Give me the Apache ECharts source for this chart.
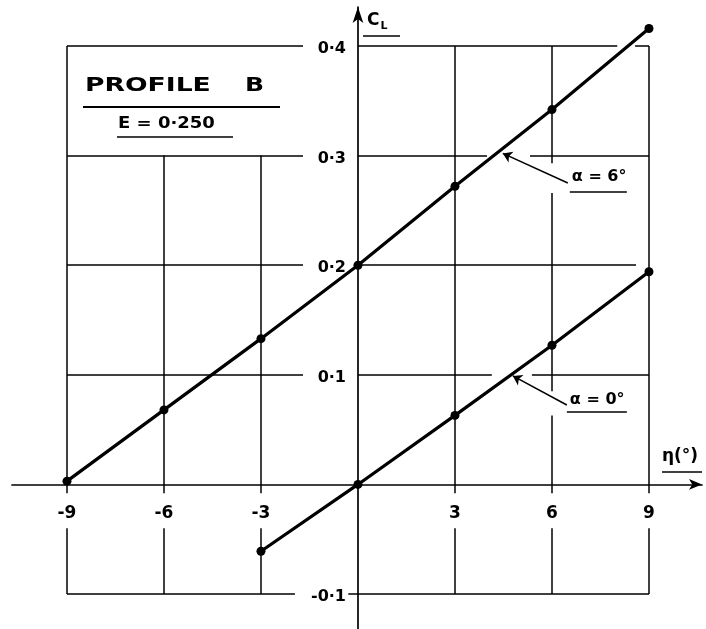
<!DOCTYPE html>
<html>
<head>
<meta charset="utf-8">
<script src="https://cdn.jsdelivr.net/npm/echarts@6/dist/echarts.min.js"></script>
<style>
  html, body { margin: 0; padding: 0; background: #fff; }
  #chart { width: 706px; height: 629px; }
</style>
</head>
<body>
<div id="chart"></div>
<script>
// Elevator angle eta (deg) and lift coefficient C_L for profile B, E = 0.250
const etaAlpha6 = [-9, -6, -3, 0, 3, 6, 9];
const clAlpha6  = [0.003, 0.068, 0.133, 0.200, 0.272, 0.342, 0.416];
const etaAlpha0 = [-3, 0, 3, 6, 9];
const clAlpha0  = [-0.061, 0.000, 0.063, 0.127, 0.194];

const etaTicks = [-9, -6, -3, 3, 6, 9];
const etaTickLabels = ['-9', '-6', '-3', '3', '6', '9'];
const clTicks = [-0.1, 0.1, 0.2, 0.3, 0.4];
const clTickLabels = ['-0·1', '0·1', '0·2', '0·3', '0·4'];

// Hand-ruled grid: each entry is one ruled stroke, broken where labels or curves sit
const gridStrokes = [
  // horizontals
  [[-9, 0.4], [-1.7, 0.4]], [[0, 0.4], [8.02, 0.4]], [[8.57, 0.4], [9, 0.4]],
  [[-9, 0.3], [-1.7, 0.3]], [[0, 0.3], [3.99, 0.3]], [[5.32, 0.3], [9, 0.3]],
  [[-9, 0.2], [-1.7, 0.2]], [[0, 0.2], [8.6, 0.2]],
  [[-9, 0.1], [-1.7, 0.1]], [[0, 0.1], [4.14, 0.1]], [[5.38, 0.1], [9, 0.1]],
  [[-9, -0.1], [-1.95, -0.1]], [[-0.3, -0.1], [9, -0.1]],
  // verticals
  [[-9, 0.4], [-9, -0.008]], [[-9, -0.04], [-9, -0.1]],
  [[-6, 0.3], [-6, -0.008]], [[-6, -0.04], [-6, -0.1]],
  [[-3, 0.3], [-3, -0.008]], [[-3, -0.04], [-3, -0.1]],
  [[3, 0.4], [3, -0.008]], [[3, -0.04], [3, -0.1]],
  [[6, 0.4], [6, 0.293]], [[6, 0.266], [6, 0.085]], [[6, 0.063], [6, -0.008]], [[6, -0.04], [6, -0.1]],
  [[9, 0.4], [9, -0.008]], [[9, -0.04], [9, -0.1]]
];

// Leader arrows: from label to curve
const leaderAlpha6 = [[6.49, 0.275], [4.48, 0.302]];
const leaderAlpha0 = [[6.46, 0.0725], [4.79, 0.099]];

const FONT = '"DejaVu Sans", sans-serif';
const INK = '#000';

const zip = (xs, ys) => xs.map((x, i) => [x, ys[i]]);

const chart = echarts.init(document.getElementById('chart'), null, { renderer: 'canvas' });

const tickLabelStyle = {
  color: INK,
  opacity: 1,
  fontSize: 17,
  fontWeight: 'bold',
  fontFamily: FONT
};

const option = {
  animation: false,
  backgroundColor: '#fff',
  grid: { left: 12, right: 4, top: 7, bottom: 0, containLabel: false, outerBoundsMode: 'none' },
  xAxis: {
    type: 'value',
    min: -10.70,
    max: 10.64,
    splitLine: { show: false },
    axisTick: { show: false },
    axisLabel: { show: false },
    axisLine: {
      onZero: true,
      symbol: ['none', 'arrow'],
      symbolSize: [8, 13],
      lineStyle: { color: INK, width: 1.7 }
    }
  },
  yAxis: {
    type: 'value',
    min: -0.1319,
    max: 0.4356,
    splitLine: { show: false },
    axisTick: { show: false },
    axisLabel: { show: false },
    axisLine: {
      onZero: true,
      symbol: ['none', 'arrow'],
      symbolSize: [8, 16],
      lineStyle: { color: INK, width: 1.7 }
    }
  },
  series: [
    {
      name: 'grid',
      type: 'lines',
      coordinateSystem: 'cartesian2d',
      silent: true,
      z: 1,
      lineStyle: { color: INK, width: 1.5, opacity: 1 },
      data: gridStrokes.map(s => ({ coords: s }))
    },
    {
      name: 'eta ticks',
      type: 'scatter',
      silent: true,
      symbolSize: 0,
      z: 4,
      itemStyle: { color: INK, opacity: 1 },
      data: etaTicks.map((v, i) => ({ value: [v, 0], name: etaTickLabels[i] })),
      label: Object.assign({
        show: true,
        position: 'inside',
        offset: [0, 29],
        formatter: p => p.name
      }, tickLabelStyle)
    },
    {
      name: 'cl ticks',
      type: 'scatter',
      silent: true,
      symbolSize: 0,
      z: 4,
      itemStyle: { color: INK, opacity: 1 },
      data: clTicks.map((v, i) => ({ value: [0, v], name: clTickLabels[i] })),
      label: Object.assign({
        show: true,
        position: 'inside',
        align: 'right',
        offset: [-12, 3],
        formatter: p => p.name
      }, tickLabelStyle, { fontSize: 16 })
    },
    {
      name: 'alpha = 6',
      type: 'line',
      z: 3,
      data: zip(etaAlpha6, clAlpha6),
      symbol: 'circle',
      symbolSize: 9,
      itemStyle: { color: INK },
      lineStyle: { color: INK, width: 3.2 }
    },
    {
      name: 'alpha = 0',
      type: 'line',
      z: 3,
      data: zip(etaAlpha0, clAlpha0),
      symbol: 'circle',
      symbolSize: 9,
      itemStyle: { color: INK },
      lineStyle: { color: INK, width: 3.2 }
    },
    {
      name: 'leaders',
      type: 'lines',
      coordinateSystem: 'cartesian2d',
      silent: true,
      z: 2,
      symbol: ['none', 'arrow'],
      symbolSize: 9,
      lineStyle: { color: INK, width: 1.5, opacity: 1 },
      data: [{ coords: leaderAlpha6 }, { coords: leaderAlpha0 }]
    }
  ]
};

chart.setOption(option);

// Annotation text, placed at the tails of the leader arrows
const px = p => chart.convertToPixel({ gridIndex: 0 }, p);
const t6 = px(leaderAlpha6[0]);
const t0 = px(leaderAlpha0[0]);

const underline = (x1, x2, y, w) => ({
  type: 'line',
  shape: { x1, y1: y, x2, y2: y },
  style: { stroke: INK, lineWidth: w || 1.5 },
  z: 10
});
const text = (x, y, str, size, extra) => Object.assign({
  type: 'text',
  x, y,
  style: {
    text: str,
    font: 'bold ' + size + 'px ' + FONT,
    fill: INK,
    textVerticalAlign: 'middle'
  },
  z: 10
}, extra || {});

chart.setOption({
  graphic: [
    // Title block
    text(85, 86, 'PROFILE', 20, { scaleX: 1.33 }),
    text(245, 86, 'B', 20, { scaleX: 1.25 }),
    underline(83, 280, 107, 2),
    text(118, 124, 'E = 0·250', 15, { scaleX: 1.2 }),
    underline(117, 233, 137, 1.5),

    // Axis names
    {
      type: 'text',
      x: 367, y: 21,
      style: {
        text: '{c|C}{l|L}',
        textVerticalAlign: 'middle',
        rich: {
          c: { font: 'bold 17px ' + FONT, fill: INK },
          l: { font: 'bold 11px ' + FONT, fill: INK, padding: [10, 0, 0, 1] }
        }
      },
      z: 10
    },
    underline(363, 400, 36, 1.5),
    text(662, 457, 'η(°)', 17),
    underline(662, 702, 472, 1.5),

    // Curve labels
    text(t6[0] + 4, t6[1] - 6, 'α = 6°', 16),
    underline(t6[0] + 2, t6[0] + 59, t6[1] + 9, 1.5),
    text(t0[0] + 3, t0[1] - 5, 'α = 0°', 16),
    underline(t0[0], t0[0] + 60, t0[1] + 7, 1.5)
  ]
});
</script>
</body>
</html>
